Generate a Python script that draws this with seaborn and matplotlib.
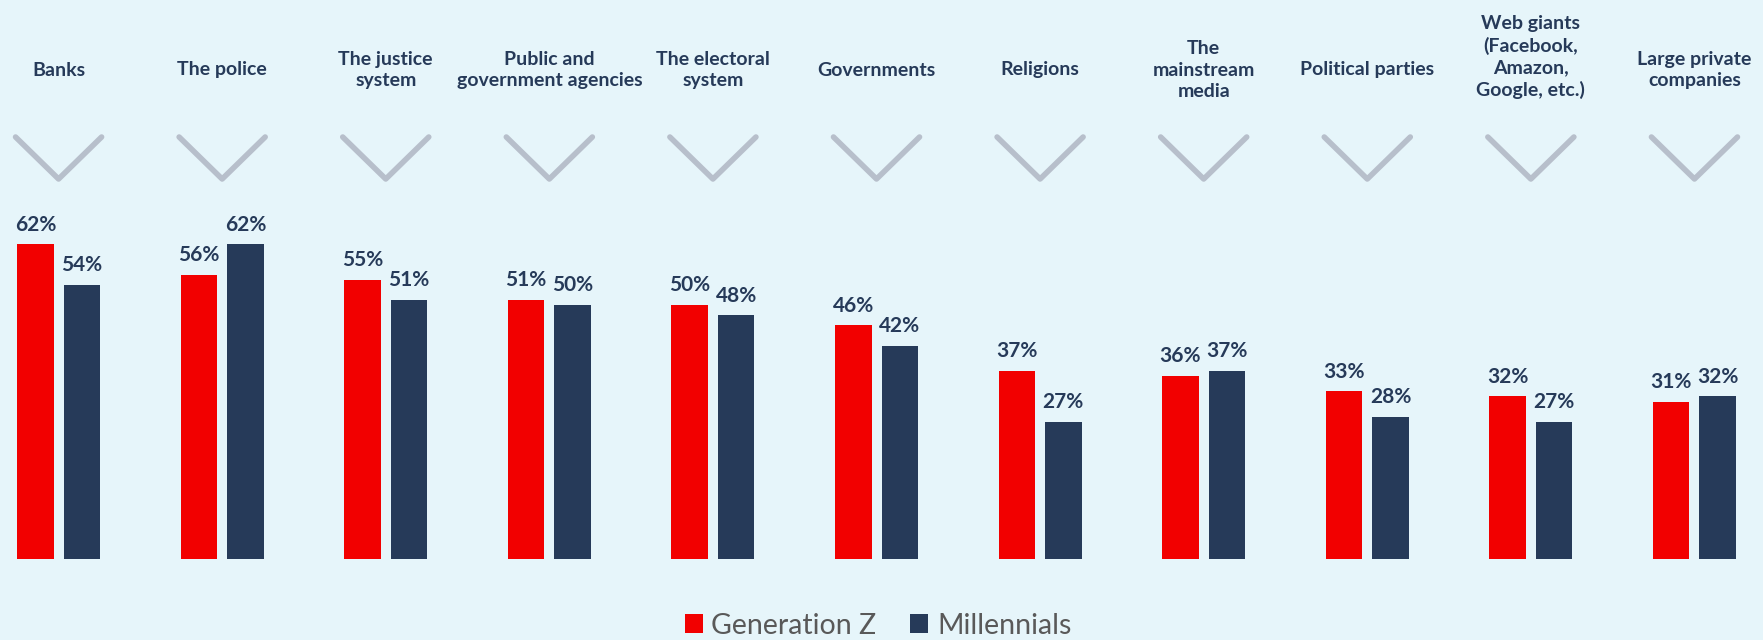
import matplotlib
matplotlib.use("Agg")
import matplotlib.pyplot as plt
import matplotlib.transforms as mtransforms
import seaborn as sns
import pandas as pd

# Trust levels by institution, two generations
categories = [
    "Banks",
    "The police",
    "The justice\nsystem",
    "Public and\ngovernment agencies",
    "The electoral\nsystem",
    "Governments",
    "Religions",
    "The\nmainstream\nmedia",
    "Political parties",
    "Web giants\n(Facebook,\nAmazon,\nGoogle, etc.)",
    "Large private\ncompanies",
]
series_names = ["Generation Z", "Millennials"]
gen_z = [62, 56, 55, 51, 50, 46, 37, 36, 33, 32, 31]
millennials = [54, 62, 51, 50, 48, 42, 27, 37, 28, 27, 32]

RED = "#f20000"
NAVY = "#263a59"
TEXT = "#263a59"
CHEVRON = "#b7bfcb"
BG = "#e6f5fa"

df = pd.DataFrame({
    "category": categories * 2,
    "value": gen_z + millennials,
    "generation": [series_names[0]] * len(categories) + [series_names[1]] * len(categories),
})

sns.set_theme(style="white")
plt.rcParams["font.family"] = ["Lato", "DejaVu Sans"]

fig = plt.figure(figsize=(17.63, 6.40), dpi=100, facecolor=BG)
ax = fig.add_axes([0, 0, 1, 1])
ax.set_facecolor(BG)

sns.barplot(
    data=df, x="category", y="value", hue="generation",
    order=categories, hue_order=series_names,
    palette=[RED, NAVY], saturation=1,
    width=0.568, gap=0.215, linewidth=0,
    ax=ax,
)

ax.set_xlim(-0.358, 10.419)
ax.set_ylim(-16.04, 110.19)
ax.axis("off")

# value labels above each bar
for container in ax.containers:
    vals = container.datavalues
    ax.bar_label(container, labels=[f"{v:.0f}%" for v in vals], padding=7,
                 fontsize=15, fontweight="bold", color=TEXT)

# category headers and chevrons, x in data units, y in axes fraction
trans = mtransforms.blended_transform_factory(ax.transData, ax.transAxes)
for i, name in enumerate(categories):
    n_lines = name.count("\n") + 1
    y_center = 1 - (57 if n_lines > 3 else 70) / 640
    ax.text(i, y_center, name, transform=trans, ha="center", va="center",
            fontsize=14, fontweight="bold", color=TEXT, linespacing=1.3,
            multialignment="center")
    ax.plot([i - 0.263, i, i + 0.263],
            [1 - 137 / 640, 1 - 179 / 640, 1 - 137 / 640],
            transform=trans, color=CHEVRON, lw=4.0,
            solid_capstyle="round", solid_joinstyle="round", clip_on=False)

sns.move_legend(
    ax, "center", bbox_to_anchor=(0.498, 14.5 / 640),
    bbox_transform=fig.transFigure, ncol=2, frameon=False, title=None,
    fontsize=20.5, handlelength=0.63, handleheight=0.63,
    handletextpad=0.3, columnspacing=1.2,
)
for t in ax.get_legend().get_texts():
    t.set_color("#595959")

fig.savefig("out.png", dpi=100, facecolor=BG)
